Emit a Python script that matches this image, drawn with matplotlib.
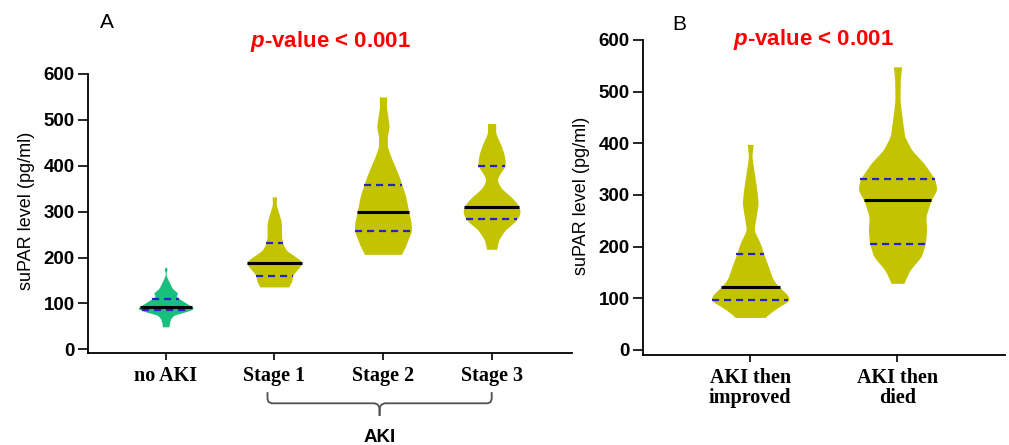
import numpy as np
import matplotlib
matplotlib.use("Agg")
import matplotlib.pyplot as plt

plt.rcParams['mathtext.fontset'] = 'custom'
plt.rcParams['mathtext.it'] = 'Liberation Sans:italic:bold'
plt.rcParams['mathtext.rm'] = 'Liberation Sans:bold'

# ---- panel A data: violin outlines (value, half width) + median / quartiles
cats_a = ["no AKI", "Stage 1", "Stage 2", "Stage 3"]

noaki_v = [49, 57, 67, 75, 82, 89, 96, 107, 116, 122, 133, 144, 151, 160, 168, 172, 176, 179]
noaki_w = [0.03, 0.034, 0.046, 0.077, 0.19, 0.265, 0.22, 0.146, 0.09, 0.115, 0.06, 0.038, 0.023, 0.006, 0.003, 0.012, 0.014, 0.004]

st1_v = [136, 147, 162, 176, 189, 195, 206, 216, 231, 245, 260, 275, 289, 304, 318, 326, 332]
st1_w = [0.13, 0.161, 0.169, 0.22, 0.264, 0.238, 0.169, 0.107, 0.077, 0.066, 0.067, 0.066, 0.052, 0.031, 0.015, 0.02, 0.021]

st2_v = [207, 224, 246, 258, 275, 302, 333, 360, 376, 398, 420, 442, 464, 485, 507, 529, 550]
st2_w = [0.169, 0.207, 0.242, 0.264, 0.26, 0.235, 0.21, 0.173, 0.15, 0.112, 0.072, 0.04, 0.04, 0.058, 0.045, 0.031, 0.034]

st3_v = [218, 238, 260, 275, 286, 300, 310, 318, 333, 351, 369, 383, 399, 409, 427, 449, 471, 492]
st3_w = [0.046, 0.064, 0.123, 0.2, 0.245, 0.264, 0.256, 0.235, 0.177, 0.087, 0.049, 0.077, 0.126, 0.126, 0.113, 0.08, 0.037, 0.038]

med_a = [93, 188, 300, 310]
q1_a = [85, 159, 257, 285]
q3_a = [110, 231, 358, 399]

# ---- panel B data
cats_b = ["AKI then\nimproved", "AKI then\ndied"]

imp_v = [63, 81, 96, 106, 121, 136, 161, 185, 207, 232, 258, 284, 310, 348, 374, 398]
imp_w = [0.096, 0.18, 0.27, 0.257, 0.2, 0.155, 0.124, 0.093, 0.068, 0.025, 0.04, 0.054, 0.045, 0.025, 0.011, 0.02]

died_v = [129, 155, 181, 207, 232, 258, 289, 310, 330, 361, 387, 413, 452, 484, 523, 548]
died_w = [0.042, 0.085, 0.163, 0.19, 0.198, 0.192, 0.226, 0.268, 0.255, 0.181, 0.096, 0.049, 0.03, 0.017, 0.019, 0.028]

med_b = [121, 290]
q1_b = [96, 206]
q3_b = [185, 330]

green = "#19BF7D"
olive = "#C3C300"
qblue = "#2424C8"

W, H = 1009, 445
fig = plt.figure(figsize=(W / 100, H / 100), dpi=100)


def px_box(x0, y_top, x1, y_bot):
    return [x0 / W, 1 - y_bot / H, (x1 - x0) / W, (y_bot - y_top) / H]


def outline(v, w, sigma):
    # round off the corners of the traced outline a little
    v = np.array(v, float)
    w = np.array(w, float)
    yy = np.linspace(v[0], v[-1], 400)
    ww = np.interp(yy, v, w)
    step = yy[1] - yy[0]
    k = np.arange(-int(3 * sigma / step), int(3 * sigma / step) + 1) * step
    k = np.exp(-0.5 * (k / sigma) ** 2)
    k /= k.sum()
    n = len(k) // 2
    pad = np.concatenate([np.full(n, ww[0]), ww, np.full(n, ww[-1])])
    return yy, np.convolve(pad, k, mode='valid')


def draw_violin(ax, pos, v, w, color, med, q1, q3, sigma=4):
    yy, ww = outline(v, w, sigma)
    ax.fill_betweenx(yy, pos - ww, pos + ww, color=color, lw=0, zorder=2)
    for q in (q1, q3):
        hw = np.interp(q, yy, ww)
        ax.plot([pos - hw, pos + hw], [q, q], color=qblue, lw=1.6,
                dashes=(3.2, 2.2), zorder=3, solid_capstyle='butt')
    hw = np.interp(med, yy, ww)
    ax.plot([pos - hw, pos + hw], [med, med], color='black', lw=2.2, zorder=4,
            solid_capstyle='butt')


def style_axes(ax, labels):
    for s in ('top', 'right'):
        ax.spines[s].set_visible(False)
    for s in ('left', 'bottom'):
        ax.spines[s].set_linewidth(1.3)
    ax.set_facecolor('none')
    ax.set_yticks(range(0, 601, 100))
    ax.set_xticks(range(1, len(labels) + 1))
    ax.set_xticklabels(labels, linespacing=1.0)
    ax.tick_params(axis='y', length=7.5, width=1.2, pad=1.8, labelsize=13.5)
    ax.tick_params(axis='x', length=5, width=1.2, pad=4, labelsize=14.5)
    for t in ax.get_yticklabels():
        t.set_fontfamily('Liberation Sans')
        t.set_fontweight('bold')
    for t in ax.get_xticklabels():
        t.set_fontfamily('Liberation Serif')
        t.set_fontweight('bold')


# panel A
axA = fig.add_axes(px_box(87.7, 74, 572, 353.3))
draw_violin(axA, 1, noaki_v, noaki_w, green, med_a[0], q1_a[0], q3_a[0], sigma=2)
draw_violin(axA, 2, st1_v, st1_w, olive, med_a[1], q1_a[1], q3_a[1])
draw_violin(axA, 3, st2_v, st2_w, olive, med_a[2], q1_a[2], q3_a[2])
draw_violin(axA, 4, st3_v, st3_w, olive, med_a[3], q1_a[3], q3_a[3])
axA.set_xlim(0.2825, 4.74)
axA.set_ylim(-8.7, 600)
style_axes(axA, cats_a)

# panel B
axB = fig.add_axes(px_box(642.7, 40, 1005, 355.3))
draw_violin(axB, 1, imp_v, imp_w, olive, med_b[0], q1_b[0], q3_b[0])
draw_violin(axB, 2, died_v, died_w, olive, med_b[1], q1_b[1], q3_b[1])
axB.set_xlim(0.27, 2.73)
axB.set_ylim(-10.3, 600)
style_axes(axB, cats_b)

# overlay in pixel coordinates for annotations
ov = fig.add_axes([0, 0, 1, 1], zorder=5)
ov.set_xlim(0, W)
ov.set_ylim(H, 0)
ov.axis('off')

ov.text(107, 23, "A", fontsize=15, family='Liberation Sans', ha='center', va='center')
ov.text(679, 25, "B", fontsize=15, family='Liberation Sans', ha='center', va='center')
title = r"$\mathit{p}$-value < 0.001"
ov.text(330, 41, title, fontsize=16, color='#FF0000', fontweight='bold',
        family='Liberation Sans', ha='center', va='center')
ov.text(813, 40, title, fontsize=16, color='#FF0000', fontweight='bold',
        family='Liberation Sans', ha='center', va='center')
for x, y in [(26.7, 211), (582, 196)]:
    ov.text(x, y, "suPAR level (pg/ml)", fontsize=13, family='Liberation Sans',
            rotation=90, ha='center', va='center')

# bracket under the AKI stages
left_arm = [(267.5, 393), (267.5, 399), (268.6, 402), (271.5, 403.3), (374.5, 403.3),
            (377.5, 404.5), (379.3, 407), (379.6, 415)]
mid = (267.5 + 491.7) / 2
right_arm = [(2 * mid - x, y) for x, y in left_arm]
for arm in (left_arm, right_arm):
    xs, ys = zip(*arm)
    ov.plot(xs, ys, color='#505050', lw=1.3)
ov.text(379.6, 438, "AKI", fontsize=13.5, fontweight='bold', family='Liberation Sans',
        ha='center', va='center')

fig.savefig("out.png", dpi=100)
